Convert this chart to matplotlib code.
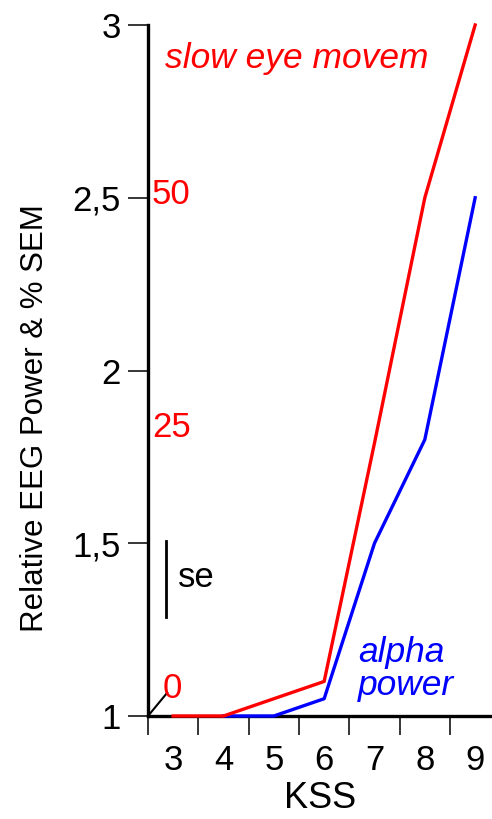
import matplotlib
matplotlib.use("Agg")
import matplotlib.pyplot as plt
import numpy as np

plt.rcParams['font.family'] = ['Liberation Sans', 'DejaVu Sans']

kss = [3, 4, 5, 6, 7, 8, 9]
slow_eye = [1.0, 1.0, 1.05, 1.10, 1.79, 2.50, 3.00]
alpha_x = [3, 4, 5, 6, 7, 8, 9]
alpha_power = [1.0, 1.0, 1.0, 1.05, 1.50, 1.80, 2.50]
yticks = [1, 1.5, 2, 2.5, 3]
ytick_labels = ["1", "1,5", "2", "2,5", "3"]
xtick_labels = ["3", "4", "5", "6", "7", "8", "9"]
sem_labels = ["0", "25", "50"]

W, H = 492, 819
fig = plt.figure(figsize=(W / 100, H / 100), dpi=100)
ax = fig.add_axes([148 / W, 1 - 716 / H, (W - 148) / W, (716 - 25) / H])

ax.plot(alpha_x[1:], alpha_power[1:], color='#0000ff', lw=2.4, clip_on=False, zorder=3)
ax.plot(kss, slow_eye, color='#ff0000', lw=2.4, clip_on=False, zorder=4)

ax.set_xlim(2.5, 2.5 + 344 / 50.33)
ax.set_ylim(1, 3)

for s in ['top', 'right']:
    ax.spines[s].set_visible(False)
for s in ['left', 'bottom']:
    ax.spines[s].set_linewidth(2.4)

ax.set_yticks(yticks)
ax.set_yticklabels(ytick_labels)
ax.tick_params(axis='y', length=14.5, width=1.1, pad=5, labelsize=25, direction='out')

ax.set_xticks(np.arange(2.5, 9.0, 1.0))
ax.set_xticklabels([])
ax.set_xticks(kss, minor=True)
ax.set_xticklabels(xtick_labels, minor=True)
ax.tick_params(axis='x', which='major', length=14, width=1.1, direction='out')
ax.tick_params(axis='x', which='minor', length=0, pad=20, labelsize=25)

ax.set_xlabel("KSS", fontsize=26, labelpad=3)
ax.set_ylabel("Relative EEG Power & % SEM", fontsize=22.5, labelpad=16)
ax.yaxis.label.set_y(0.431)

# secondary (SEM %) labels in red
ax.text(2.80, 1.081, sem_labels[0], color='#ff0000', fontsize=25, va='center', ha='left')
ax.text(2.58, 1.834, sem_labels[1], color='#ff0000', fontsize=25, va='center', ha='left')
ax.text(2.58, 2.508, sem_labels[2], color='#ff0000', fontsize=25, va='center', ha='left')
ax.plot([2.5, 2.88], [1.0, 1.067], color='black', lw=1.5, clip_on=False)

# se bar
ax.plot([2.858, 2.858], [1.287, 1.507], color='black', lw=2.0)
ax.text(3.10, 1.40, "se", color='black', fontsize=25, va='center', ha='left')

ax.text(2.84, 2.876, "slow eye movem", color='#ff0000', fontsize=25.5,
        style='italic', va='baseline', ha='left')
ax.text(6.67, 1.156, "alpha", color='#0000ff', fontsize=25.5,
        style='italic', va='baseline', ha='left')
ax.text(6.67, 1.061, "power", color='#0000ff', fontsize=25.5,
        style='italic', va='baseline', ha='left')

fig.savefig("out.png", dpi=100)
